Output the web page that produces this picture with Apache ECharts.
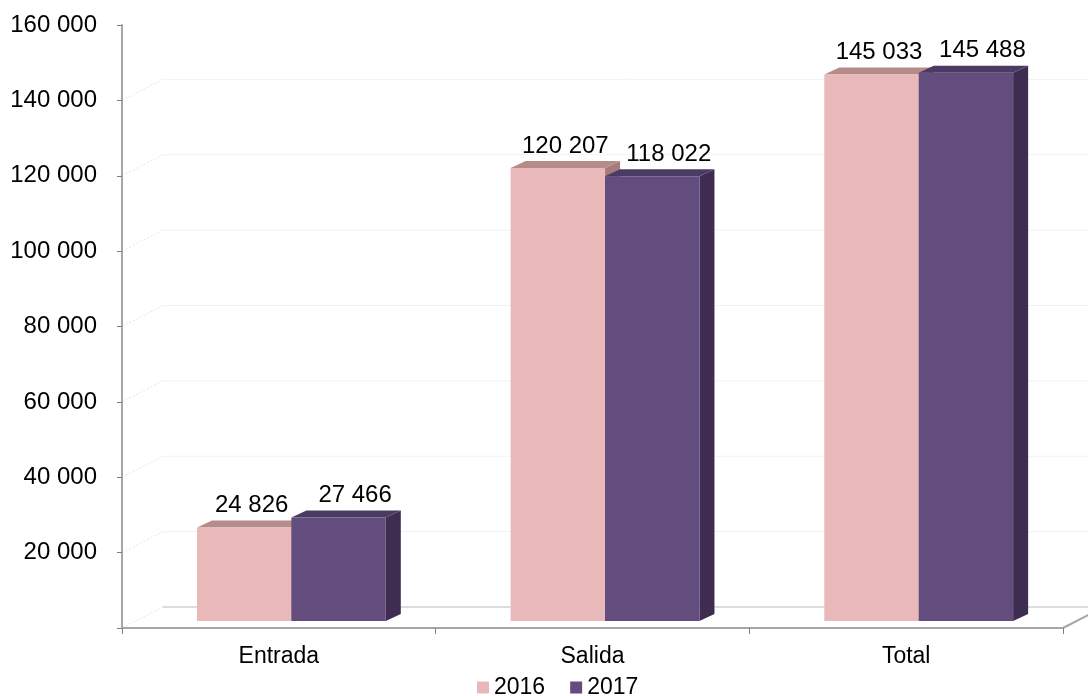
<!DOCTYPE html>
<html>
<head>
<meta charset="utf-8">
<script src="https://cdn.jsdelivr.net/npm/echarts@6/dist/echarts.min.js"></script>
<style>
html,body{margin:0;padding:0;background:#fff;}
#chart{width:1088px;height:696px;}
</style>
</head>
<body>
<div id="chart"></div>
<script>
const categories = ['Entrada', 'Salida', 'Total'];
const seriesNames = ['2016', '2017'];
const values2016 = [24826, 120207, 145033];
const values2017 = [27466, 118022, 145488];
const gridTicks = [0, 20000, 40000, 60000, 80000, 100000, 120000, 140000];

const FONT = '"Liberation Sans", Arial, sans-serif';
const colors = [
  { front: '#e9b9b9', top: '#b58c8a', side: '#a47c7b', labelShift: 0 },
  { front: '#634d7e', top: '#4b3a64', side: '#3e2d50', labelShift: 9 }
];
function fmt(v) { return String(v).replace(/\B(?=(\d{3})+(?!\d))/g, ' '); }

function barRenderer(sIdx) {
  return function (params, api) {
    const i = api.value(0), v = api.value(1);
    const base = api.coord([i, 0]);
    const top = api.coord([i, v]);
    const bw = api.size([1, 0])[0];
    const w = bw * 0.301;
    const cx = base[0] + bw * 0.04;
    const xl = sIdx === 0 ? cx - w : cx;
    const xr = xl + w;
    const y0 = base[1] - 7, y1 = top[1] - 7;
    const dx = 15, dy = 7;
    const c = colors[sIdx];
    return {
      type: 'group',
      children: [
        { type: 'polygon', shape: { points: [[xr, y1], [xr + dx, y1 - dy], [xr + dx, y0 - dy], [xr, y0]] }, style: { fill: c.side } },
        { type: 'polygon', shape: { points: [[xl, y1], [xl + dx, y1 - dy], [xr + dx, y1 - dy], [xr, y1]] }, style: { fill: c.top } },
        { type: 'rect', shape: { x: xl, y: y1, width: w, height: y0 - y1 }, style: { fill: c.front } },
        { type: 'text', style: { text: fmt(v), x: (xl + xr + dx) / 2 + c.labelShift, y: y1 - dy - 3, align: 'center', verticalAlign: 'bottom', font: '24px ' + FONT, fill: '#000' } }
      ]
    };
  };
}

function gridRenderer(params, api) {
  const cs = params.coordSys;
  const v = api.value(1);
  const y = api.coord([0, v])[1];
  const children = [
    { type: 'line', shape: { x1: cs.x, y1: y, x2: cs.x + 41, y2: y - 21 }, style: { stroke: '#e6e6e6', lineWidth: 1, lineDash: [2, 2] } },
    { type: 'line', shape: { x1: cs.x + 41, y1: y - 21, x2: api.getWidth(), y2: y - 21 }, style: { stroke: v === 0 ? '#dcdcdc' : '#f2f2f2', lineWidth: v === 0 ? 2 : 1 } }
  ];
  if (v === 0) {
    children.push({ type: 'line', shape: { x1: cs.x + cs.width, y1: y, x2: cs.x + cs.width + 41, y2: y - 21 }, style: { stroke: '#a6a6a6', lineWidth: 2 } });
  }
  return { type: 'group', children: children };
}

const chart = echarts.init(document.getElementById('chart'), null, { renderer: 'canvas' });
chart.setOption({
  animation: false,
  backgroundColor: '#ffffff',
  grid: { left: 122, right: 25, top: 25, bottom: 68, containLabel: false },
  legend: {
    data: seriesNames,
    left: 472, top: 671,
    icon: 'rect', itemWidth: 12, itemHeight: 12, itemGap: 25,
    textStyle: { fontFamily: FONT, fontSize: 23, color: '#000' }
  },
  xAxis: {
    type: 'category',
    data: categories,
    boundaryGap: true,
    axisLine: { lineStyle: { color: '#a6a6a6', width: 2 } },
    axisTick: { show: true, length: 6, lineStyle: { color: '#808080', width: 1 } },
    axisLabel: { fontFamily: FONT, fontSize: 23, color: '#000', margin: 17 }
  },
  yAxis: {
    type: 'value',
    min: 0, max: 160000, interval: 20000,
    axisLine: { show: true, lineStyle: { color: '#a6a6a6', width: 2 } },
    axisTick: { show: true, length: 5, lineStyle: { color: '#808080', width: 1 } },
    splitLine: { show: false },
    axisLabel: { fontFamily: FONT, fontSize: 24, color: '#000', margin: 25, formatter: v => v === 0 ? '' : fmt(v) }
  },
  series: [
    {
      name: 'wall', type: 'custom', silent: true, z: 0,
      renderItem: gridRenderer,
      data: gridTicks.map(v => [0, v]),
      encode: { x: 0, y: 1 }, clip: false
    },
    {
      name: seriesNames[0], type: 'custom', z: 2,
      itemStyle: { color: colors[0].front },
      renderItem: barRenderer(0),
      data: values2016.map((v, i) => [i, v]),
      encode: { x: 0, y: 1 }
    },
    {
      name: seriesNames[1], type: 'custom', z: 3,
      itemStyle: { color: colors[1].front },
      renderItem: barRenderer(1),
      data: values2017.map((v, i) => [i, v]),
      encode: { x: 0, y: 1 }
    }
  ]
});
</script>
</body>
</html>
